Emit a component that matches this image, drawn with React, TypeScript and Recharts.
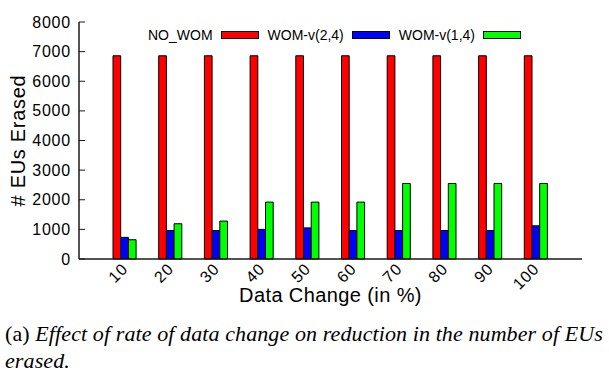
import React from 'react';
import { BarChart, Bar, XAxis, YAxis, Label } from 'recharts';

const categories = ['10', '20', '30', '40', '50', '60', '70', '80', '90', '100'];
const noWom = [6860, 6860, 6860, 6860, 6860, 6860, 6860, 6860, 6860, 6860];
const womV24 = [730, 960, 960, 1000, 1050, 960, 960, 960, 960, 1120];
const womV14 = [650, 1190, 1280, 1920, 1920, 1920, 2550, 2550, 2550, 2550];
const yTicks = [0, 1000, 2000, 3000, 4000, 5000, 6000, 7000, 8000];
const seriesNames = ['NO_WOM', 'WOM-v(2,4)', 'WOM-v(1,4)'];
const seriesColors = ['#ff0000', '#0000ff', '#00ff00'];
const xTitle = 'Data Change (in %)';
const yTitle = '# EUs Erased';

const data = categories.map((c, i) => ({
  cat: c,
  s0: noWom[i],
  s1: womV24[i],
  s2: womV14[i],
}));

const SANS = '"Liberation Sans", Arial, Helvetica, sans-serif';
const SERIF = '"Liberation Serif", "Times New Roman", serif';
const AXIS = '#1a1a1a';
const TICK_LEN = 6;

const LeftTick = (p: any) => (
  <g>
    <line x1={p.x + 8} x2={p.x + 8 + TICK_LEN} y1={p.y} y2={p.y} stroke={AXIS} strokeWidth={1} />
    <text
      x={p.x}
      y={p.y}
      dy={5.5}
      textAnchor="end"
      fontFamily={SANS}
      fontSize={16}
      letterSpacing={0.8}
      fill="#000"
    >
      {p.payload.value}
    </text>
  </g>
);

const RightTick = (p: any) => (
  <line x1={p.x - TICK_LEN} x2={p.x} y1={p.y} y2={p.y} stroke={AXIS} strokeWidth={1} />
);

const TopTick = (p: any) => (
  <line x1={p.x} x2={p.x} y1={p.y} y2={p.y + TICK_LEN} stroke={AXIS} strokeWidth={1} />
);

const BottomTick = (p: any) => {
  const tx = p.x + 4;
  const ty = p.y + 11;
  return (
    <text
      x={tx}
      y={ty}
      textAnchor="end"
      transform={`rotate(-45, ${tx}, ${ty})`}
      fontFamily={SANS}
      fontSize={16}
      letterSpacing={0.8}
      fill="#000"
    >
      {p.payload.value}
    </text>
  );
};

export default function App() {
  return (
    <div style={{ position: 'absolute', left: 0, top: 0, width: 609, height: 381, background: '#fff' }}>
      <BarChart
        width={609}
        height={310}
        data={data}
        margin={{ top: 22, right: 27, bottom: 0, left: 0 }}
        barGap={0}
        barSize={7.7}
      >
        <XAxis
          dataKey="cat"
          xAxisId={0}
          height={51}
          padding={{ left: 23, right: 23 }}
          stroke={AXIS}
          strokeWidth={1.5}
          tickLine={false}
          tickSize={0}
          tickMargin={0}
          tick={BottomTick}
          interval={0}
        >
          <Label
            content={(p: any) => {
              const vb = p.viewBox;
              return (
                <text
                  x={vb.x + vb.width / 2}
                  y={302}
                  textAnchor="middle"
                  fontFamily={SANS}
                  fontSize={20}
                  letterSpacing={0.4}
                  fill="#000"
                >
                  {xTitle}
                </text>
              );
            }}
          />
        </XAxis>
        <XAxis
          dataKey="cat"
          xAxisId="top"
          orientation="top"
          height={0}
          padding={{ left: 23, right: 23 }}
          stroke={AXIS}
          strokeWidth={1.5}
          tickSize={0}
          tickMargin={0}
          tickLine={false}
          tick={TopTick}
          interval={0}
        />
        <YAxis
          yAxisId={0}
          width={79}
          domain={[0, 8000]}
          ticks={yTicks}
          interval={0}
          stroke={AXIS}
          strokeWidth={1.5}
          tickSize={0}
          tickMargin={8}
          tickLine={false}
          tick={LeftTick}
        >
          <Label
            content={() => (
              <text
                x={24.5}
                y={140.5}
                textAnchor="middle"
                transform="rotate(-90, 24.5, 140.5)"
                fontFamily={SANS}
                fontSize={20}
                letterSpacing={0.7}
                fill="#000"
              >
                {yTitle}
              </text>
            )}
          />
        </YAxis>
        <YAxis
          yAxisId="right"
          orientation="right"
          width={0}
          domain={[0, 8000]}
          ticks={yTicks}
          interval={0}
          stroke={AXIS}
          strokeWidth={1.5}
          tickSize={0}
          tickMargin={0}
          tickLine={false}
          tick={RightTick}
        />
        {['s0', 's1', 's2'].map((k, i) => (
          <Bar
            key={k}
            dataKey={k}
            name={seriesNames[i]}
            xAxisId={0}
            yAxisId={0}
            fill={seriesColors[i]}
            stroke="#000"
            strokeWidth={1}
            isAnimationActive={false}
          />
        ))}
      </BarChart>
      <div
        style={{
          position: 'absolute',
          left: 148,
          top: 26.5,
          height: 16,
          display: 'flex',
          alignItems: 'center',
          fontFamily: SANS,
          fontSize: 14,
          lineHeight: '16px',
          color: '#000',
          whiteSpace: 'nowrap',
        }}
      >
        {seriesNames.map((n, i) => (
          <React.Fragment key={n}>
            <span style={{ marginLeft: i === 0 ? 0 : 9 }}>{n}</span>
            <span
              style={{
                marginLeft: 8,
                width: 36,
                height: 6,
                background: seriesColors[i],
                border: '1px solid #000',
                display: 'inline-block',
              }}
            />
          </React.Fragment>
        ))}
      </div>
      <div
        style={{
          position: 'absolute',
          left: 5,
          top: 320,
          fontFamily: SERIF,
          fontSize: 22,
          lineHeight: '27px',
          letterSpacing: 0.1,
          color: '#000',
          whiteSpace: 'nowrap',
        }}
      >
        (a) <i>Effect of rate of data change on reduction in the number of EUs</i>
        <br />
        <i>erased.</i>
      </div>
    </div>
  );
}
